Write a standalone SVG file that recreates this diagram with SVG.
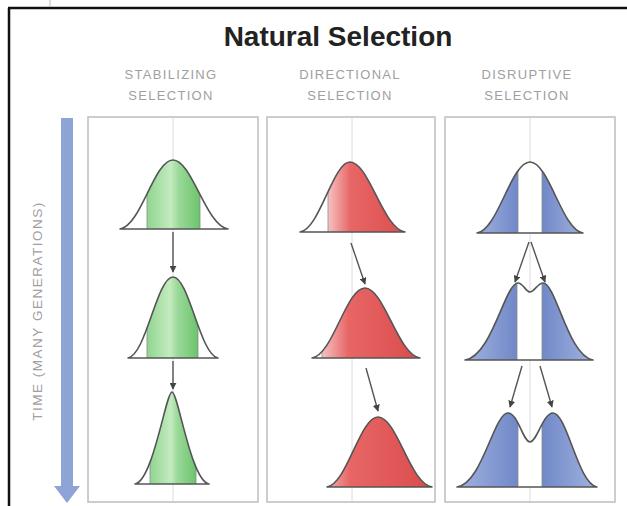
<svg xmlns="http://www.w3.org/2000/svg" width="627" height="506" viewBox="0 0 627 506">
<style>
.title{font-family:"Liberation Sans",Arial,sans-serif;font-weight:bold;font-size:28px;fill:#222;text-anchor:middle}
.sub{font-family:"Liberation Sans",Arial,sans-serif;font-size:13px;fill:#a0a0a0;text-anchor:middle;letter-spacing:1.3px}
.axis{font-family:"Liberation Sans",Arial,sans-serif;font-size:13.5px;fill:#a0a0a0;text-anchor:middle;letter-spacing:1.5px}
.panel{fill:#fff;stroke:#bdbdbd;stroke-width:1.5}
.mid{stroke:#dcdcdc;stroke-width:1}
.curve{fill:none;stroke:#555;stroke-width:1.6;stroke-linejoin:round}
.base{fill:#fff}
.seg{stroke:#8a8a8a;stroke-width:0.8}
.conn{stroke:#555;stroke-width:1.4;fill:none;marker-end:url(#ah)}
</style>
<defs>
<marker id="ah" viewBox="0 0 10 10" refX="9" refY="5" markerWidth="5" markerHeight="5" orient="auto" markerUnits="strokeWidth">
<path d="M0,0 L10,5 L0,10 Z" fill="#444"/>
</marker>
<linearGradient id="gG" x1="0" y1="0" x2="1" y2="0">
<stop offset="0" stop-color="#8fd68f"/><stop offset="0.45" stop-color="#c4ebc0"/><stop offset="0.6" stop-color="#9ad99a"/><stop offset="1" stop-color="#6cc46c"/>
</linearGradient>
<linearGradient id="gR" x1="0" y1="0" x2="1" y2="0">
<stop offset="0" stop-color="#f5c2c2"/><stop offset="0.25" stop-color="#e86666"/><stop offset="1" stop-color="#d94848"/>
</linearGradient>
<linearGradient id="gBL" x1="0" y1="0" x2="1" y2="0">
<stop offset="0" stop-color="#a8b8e2"/><stop offset="1" stop-color="#7088c8"/>
</linearGradient>
<linearGradient id="gBR" x1="0" y1="0" x2="1" y2="0">
<stop offset="0" stop-color="#7088c8"/><stop offset="1" stop-color="#a8b8e2"/>
</linearGradient>
<path id="s1" d="M120,229 C141,226 154,160 173,160 C192,160 206,226 228,229 Z"/>
<path id="s2" d="M128,358 C146,355 157,277 173,277 C189,277 200,355 218,358 Z"/>
<path id="s3" d="M135,484 C153,481 166,392 172,392 C178,392 191,481 209,484 Z"/>
<path id="d1" d="M300,232 C320,229 333,162 350,162 C369,162 383,229 405,232 Z"/>
<path id="d2" d="M312,358 C333,355 346,288 365,288 C384,288 398,355 420,358 Z"/>
<path id="d3" d="M327,487 C347,484 360,417 378,417 C397,417 410,484 432,487 Z"/>
<path id="r1" d="M477,233 C498,230 511,162 530,162 C549,162 562,230 583,233 Z"/>
<path id="r2" d="M465,360 C492,356 505,283 518,283 C523,283 526,292 530,292 C534,292 538,283 543,283 C556,283 568,356 593,360 Z"/>
<path id="r3" d="M457,487 C482,484 494,413 508,413 C518,413 523,442 530,442 C537,442 543,413 553,413 C567,413 578,484 597,487 Z"/>
<clipPath id="cs1"><use href="#s1"/></clipPath>
<clipPath id="cs2"><use href="#s2"/></clipPath>
<clipPath id="cs3"><use href="#s3"/></clipPath>
<clipPath id="cd1"><use href="#d1"/></clipPath>
<clipPath id="cd2"><use href="#d2"/></clipPath>
<clipPath id="cd3"><use href="#d3"/></clipPath>
<clipPath id="cr1"><use href="#r1"/></clipPath>
<clipPath id="cr2"><use href="#r2"/></clipPath>
<clipPath id="cr3"><use href="#r3"/></clipPath>
</defs>
<rect width="627" height="506" fill="#fff"/>
<g id="frame">
<line x1="9" y1="8" x2="9" y2="506" stroke="#111" stroke-width="2.5"/>
<line x1="8" y1="8" x2="627" y2="8" stroke="#111" stroke-width="2.5"/>
<line x1="50" y1="0" x2="50" y2="7" stroke="#bbb" stroke-width="1"/>
</g>
<g id="title"><text class="title" x="338" y="46">Natural Selection</text></g>
<g id="label-stabilizing"><text class="sub" x="171" y="79">STABILIZING</text><text class="sub" x="171" y="100">SELECTION</text></g>
<g id="label-directional"><text class="sub" x="350" y="79">DIRECTIONAL</text><text class="sub" x="350" y="100">SELECTION</text></g>
<g id="label-disruptive"><text class="sub" x="527" y="79">DISRUPTIVE</text><text class="sub" x="527" y="100">SELECTION</text></g>
<g id="time-axis">
<rect x="61" y="118" width="12" height="370" fill="#8ea3d6"/>
<polygon points="54,486 80,486 67,503" fill="#8ea3d6"/>
<text class="axis" transform="translate(42,311) rotate(-90)">TIME (MANY GENERATIONS)</text>
</g>
<g id="panel-stabilizing">
<rect class="panel" x="88" y="117" width="170" height="385"/>
<line class="mid" x1="173" y1="118" x2="173" y2="501"/>
</g>
<g id="panel-directional">
<rect class="panel" x="267" y="117" width="168" height="385"/>
<line class="mid" x1="352" y1="118" x2="352" y2="501"/>
</g>
<g id="panel-disruptive">
<rect class="panel" x="445" y="117" width="170" height="385"/>
<line class="mid" x1="530" y1="118" x2="530" y2="501"/>
</g>
<g id="stab-gen1">
<use href="#s1" class="base"/>
<rect class="seg" x="147" y="150" width="53" height="90" fill="url(#gG)" clip-path="url(#cs1)"/>
<use href="#s1" class="curve"/>
</g>
<g id="stab-gen2">
<use href="#s2" class="base"/>
<rect class="seg" x="147" y="270" width="51" height="95" fill="url(#gG)" clip-path="url(#cs2)"/>
<use href="#s2" class="curve"/>
</g>
<g id="stab-gen3">
<use href="#s3" class="base"/>
<rect class="seg" x="150" y="385" width="46" height="105" fill="url(#gG)" clip-path="url(#cs3)"/>
<use href="#s3" class="curve"/>
</g>
<g id="dir-gen1">
<use href="#d1" class="base"/>
<rect class="seg" x="328" y="155" width="90" height="85" fill="url(#gR)" clip-path="url(#cd1)"/>
<use href="#d1" class="curve"/>
</g>
<g id="dir-gen2">
<use href="#d2" class="base"/>
<rect class="seg" x="322" y="280" width="105" height="85" fill="url(#gR)" clip-path="url(#cd2)"/>
<use href="#d2" class="curve"/>
</g>
<g id="dir-gen3">
<use href="#d3" class="base"/>
<rect x="320" y="410" width="120" height="85" fill="url(#gR)" clip-path="url(#cd3)"/>
<use href="#d3" class="curve"/>
</g>
<g id="dis-gen1">
<use href="#r1" class="base"/>
<rect class="seg" x="470" y="155" width="48" height="85" fill="url(#gBL)" clip-path="url(#cr1)"/>
<rect class="seg" x="542" y="155" width="48" height="85" fill="url(#gBR)" clip-path="url(#cr1)"/>
<use href="#r1" class="curve"/>
</g>
<g id="dis-gen2">
<use href="#r2" class="base"/>
<rect class="seg" x="460" y="275" width="57" height="90" fill="url(#gBL)" clip-path="url(#cr2)"/>
<rect class="seg" x="542" y="275" width="57" height="90" fill="url(#gBR)" clip-path="url(#cr2)"/>
<use href="#r2" class="curve"/>
</g>
<g id="dis-gen3">
<use href="#r3" class="base"/>
<rect class="seg" x="450" y="405" width="68" height="90" fill="url(#gBL)" clip-path="url(#cr3)"/>
<rect class="seg" x="542" y="405" width="62" height="90" fill="url(#gBR)" clip-path="url(#cr3)"/>
<use href="#r3" class="curve"/>
</g>
<g id="connectors">
<line class="conn" x1="173" y1="232" x2="173" y2="272"/>
<line class="conn" x1="173" y1="361" x2="173" y2="389"/>
<line class="conn" x1="351" y1="243" x2="365" y2="284"/>
<line class="conn" x1="366" y1="368" x2="378" y2="411"/>
<line class="conn" x1="529" y1="242" x2="515" y2="282"/>
<line class="conn" x1="531" y1="242" x2="545" y2="282"/>
<line class="conn" x1="522" y1="366" x2="510" y2="407"/>
<line class="conn" x1="540" y1="366" x2="552" y2="407"/>
</g>
</svg>
